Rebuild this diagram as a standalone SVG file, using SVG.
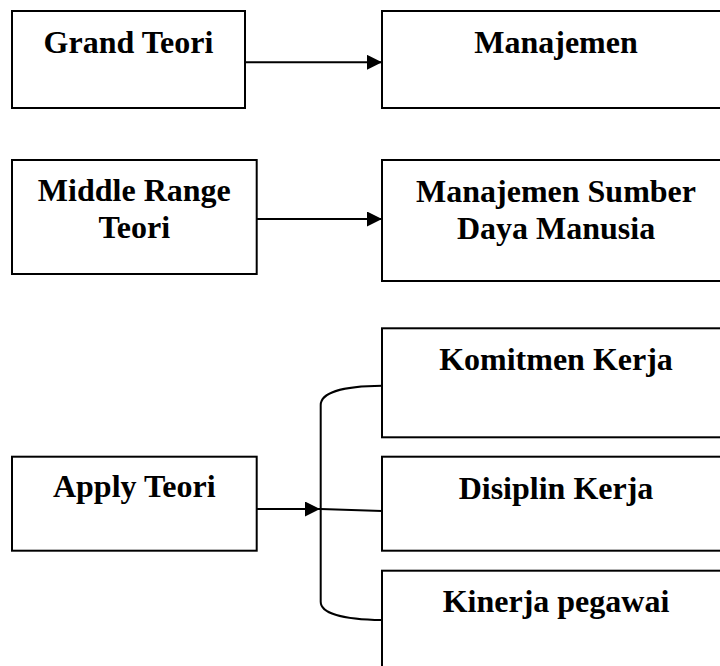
<svg xmlns="http://www.w3.org/2000/svg" width="720" height="666" viewBox="0 0 720 666">
  <style>
    .box { fill: #ffffff; stroke: #000000; stroke-width: 2; }
    .lbl { font-family: "Liberation Serif", "Times New Roman", serif; font-weight: bold; font-size: 32px; fill: #000000; text-anchor: middle; }
    .wire { fill: none; stroke: #000000; stroke-width: 2; }
  </style>
  <defs>
    <marker id="arrowhead" viewBox="0 0 15 15" refX="15" refY="7.5" markerWidth="15" markerHeight="15" markerUnits="userSpaceOnUse" orient="auto">
      <path d="M0,0 L15,7.5 L0,15 Z" fill="#000000"/>
    </marker>
  </defs>
  <rect width="720" height="666" fill="#ffffff"/>

  <!-- Row 1 -->
  <g id="grand-teori">
    <rect class="box" x="12" y="11" width="233" height="97"/>
    <text class="lbl" x="128.5" y="53">Grand Teori</text>
  </g>
  <g id="manajemen">
    <rect class="box" x="382" y="11" width="348" height="97"/>
    <text class="lbl" x="556" y="53">Manajemen</text>
  </g>

  <!-- Row 2 -->
  <g id="middle-range-teori">
    <rect class="box" x="12" y="160" width="244.7" height="114"/>
    <text class="lbl" x="134.3" y="201">Middle Range</text>
    <text class="lbl" x="134.3" y="238">Teori</text>
  </g>
  <g id="msdm">
    <rect class="box" x="382" y="160" width="348" height="121"/>
    <text class="lbl" x="556" y="201.5">Manajemen Sumber</text>
    <text class="lbl" x="556" y="239">Daya Manusia</text>
  </g>

  <!-- Row 3 -->
  <g id="apply-teori">
    <rect class="box" x="12" y="456.7" width="244.7" height="94"/>
    <text class="lbl" x="134.3" y="496.7">Apply Teori</text>
  </g>
  <g id="komitmen-kerja">
    <rect class="box" x="382" y="328.3" width="348" height="109"/>
    <text class="lbl" x="556" y="370">Komitmen Kerja</text>
  </g>
  <g id="disiplin-kerja">
    <rect class="box" x="382" y="456.7" width="348" height="94"/>
    <text class="lbl" x="556" y="499.3">Disiplin Kerja</text>
  </g>
  <g id="kinerja-pegawai">
    <rect class="box" x="382" y="570.7" width="348" height="100"/>
    <text class="lbl" x="556" y="611.7">Kinerja pegawai</text>
  </g>

  <!-- Connectors -->
  <g id="connectors">
    <line class="wire" x1="245" y1="62.3" x2="382" y2="62.3" marker-end="url(#arrowhead)"/>
    <line class="wire" x1="256.7" y1="219" x2="382" y2="219" marker-end="url(#arrowhead)"/>
    <line class="wire" x1="256.7" y1="509" x2="320" y2="509" marker-end="url(#arrowhead)"/>
    <line class="wire" x1="320.7" y1="509" x2="382" y2="511"/>
    <path class="wire" d="M382,385.7 C342,386 320.7,393 320.7,405 L320.7,601.7 C320.7,613 342,619.5 382,620"/>
  </g>
</svg>
